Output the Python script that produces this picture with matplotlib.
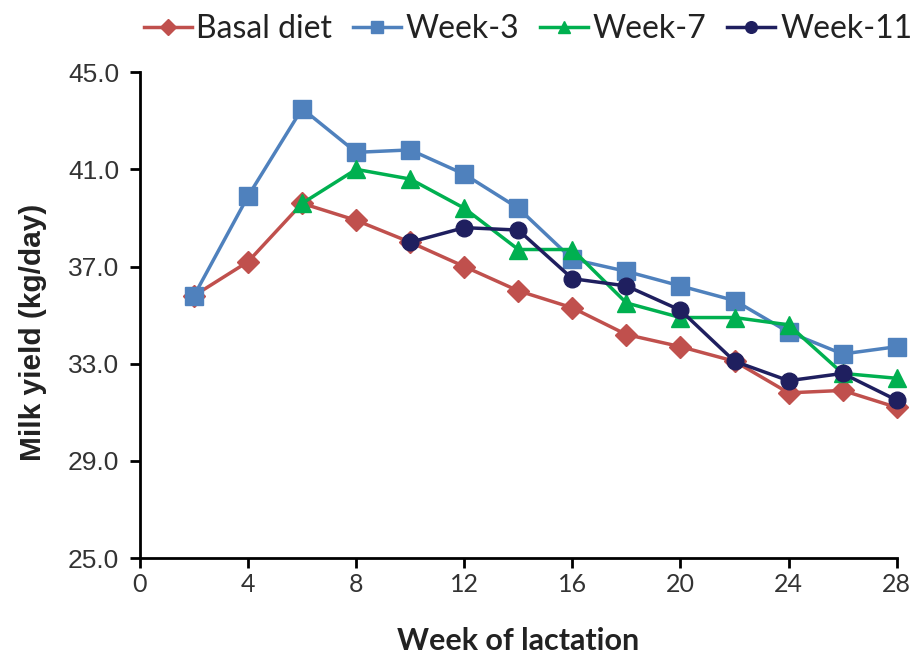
import numpy as np
import matplotlib.pyplot as plt

plt.rcParams['font.family'] = ['Lato', 'DejaVu Sans']

weeks = [2, 4, 6, 8, 10, 12, 14, 16, 18, 20, 22, 24, 26, 28]
basal = [35.8, 37.2, 39.6, 38.9, 38.0, 37.0, 36.0, 35.3, 34.2, 33.7, 33.1, 31.8, 31.9, 31.2]
week3 = [35.8, 39.9, 43.5, 41.7, 41.8, 40.8, 39.4, 37.3, 36.8, 36.2, 35.6, 34.3, 33.4, 33.7]
weeks7 = [6, 8, 10, 12, 14, 16, 18, 20, 22, 24, 26, 28]
week7 = [39.6, 41.0, 40.6, 39.4, 37.7, 37.7, 35.5, 34.9, 34.9, 34.6, 32.6, 32.4]
weeks11 = [10, 12, 14, 16, 18, 20, 22, 24, 26, 28]
week11 = [38.0, 38.6, 38.5, 36.5, 36.2, 35.2, 33.1, 32.3, 32.6, 31.5]

fig = plt.figure(figsize=(9.15, 6.62), dpi=100)
ax = fig.add_axes([0.153, 0.157, 0.827, 0.734])

ax.plot(weeks, basal, color='#C0504D', marker='D', markersize=11, lw=2.5, label='Basal diet', clip_on=False)
ax.plot(weeks, week3, color='#4F81BD', marker='s', markersize=12.5, lw=2.5, label='Week-3', clip_on=False)
ax.plot(weeks7, week7, color='#00B050', marker='^', markersize=13, lw=2.5, label='Week-7', clip_on=False)
ax.plot(weeks11, week11, color='#1F1F5F', marker='o', markersize=12, lw=2.5, label='Week-11', clip_on=False)

ax.set_xlim(0, 28)
ax.set_ylim(25, 45)
ax.set_xticks(np.arange(0, 29, 4))
ax.set_yticks(np.arange(25, 46, 4))
ax.set_yticklabels(['%.1f' % v for v in np.arange(25, 46, 4)],
                   family=['Liberation Sans', 'DejaVu Sans'], color='#333333')
ax.spines['top'].set_visible(False)
ax.spines['right'].set_visible(False)
ax.spines['left'].set_linewidth(2)
ax.spines['bottom'].set_linewidth(2)
ax.tick_params(axis='y', direction='out', width=2, length=7, labelsize=19, pad=8)
ax.tick_params(axis='x', direction='out', width=2, length=7, labelsize=18, pad=4, labelcolor='#333333')

ax.set_xlabel('Week of lactation', fontsize=22, fontweight='bold', color='#222222')
ax.set_ylabel('Milk yield (kg/day)', fontsize=21.5, fontweight='bold',
              family=['Liberation Sans', 'DejaVu Sans'], color='#222222')
ax.xaxis.set_label_coords(0.5, -0.142)
ax.yaxis.set_label_coords(-0.123, 0.465)

fig.legend(*ax.get_legend_handles_labels(), loc='center', bbox_to_anchor=(0.577, 0.956),
           ncol=4, frameon=False, fontsize=23, handlelength=1.5, handletextpad=0.15,
           columnspacing=0.65, markerscale=0.7, labelcolor='#222222')

plt.savefig('out.png')
